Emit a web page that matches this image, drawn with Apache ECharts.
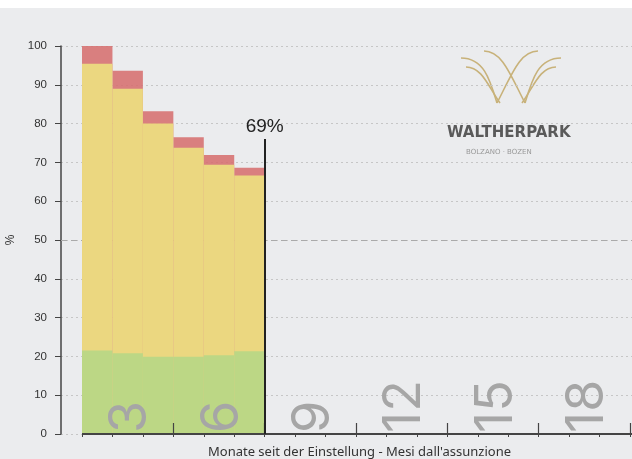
<!DOCTYPE html>
<html>
<head>
<meta charset="utf-8">
<script src="https://cdn.jsdelivr.net/npm/echarts@6/dist/echarts.min.js"></script>
<style>
html, body { margin: 0; padding: 0; background: #fff; }
#main { position: absolute; left: 0; top: 8px; width: 632px; height: 451px; }
</style>
</head>
<body>
<div id="main"></div>
<script>
// monthly shares (%), green / yellow / red from bottom to top
let months = [1, 2, 3, 4, 5, 6];
let greenData = [21.5, 20.8, 19.9, 19.9, 20.3, 21.3];
let yellowData = [73.9, 68.2, 60.1, 53.9, 49.1, 45.3];
let redData = [4.6, 4.6, 3.2, 2.7, 2.5, 2.0];

let xTickValues = [3, 6, 9, 12, 15, 18];
let xTickLabels = ['3', '6', '9', '12', '15', '18'];
let monthTicks = [0, 1, 2, 3, 4, 5, 6, 7, 8, 9, 10, 11, 12, 13, 14, 15, 16, 17, 18];

let markerMonth = 6;
let markerTop = 76;
let markerLabel = '69%';
let refLine = 50;

let xMin = -0.69;
let xMax = 18.066;
let labelPos = xTickValues.map(v => v - 1.4);

// value/value axes can't stack, so layer cumulative tops instead
let greenTop = greenData.slice();
let yellowTop = greenData.map((g, i) => g + yellowData[i]);
let redTop = yellowTop.map((y, i) => y + redData[i]);

function toPairs(arr) {
  return months.map((m, i) => [m - 0.5, arr[i]]);
}

let chart = echarts.init(document.getElementById('main'));

// logo emblem (decoration), chart coords
let gold = '#c8b27a';
let mid = 511;
let curves = [
  [484, 43, 502, 43, 510, 66, 525, 95],
  [461, 50, 484, 50, 490, 72, 497, 95],
  [466, 59, 482, 59, 488, 78, 500, 95]
];
let emblem = [];
curves.forEach(c => {
  emblem.push({
    type: 'bezierCurve',
    shape: { x1: c[0], y1: c[1], cpx1: c[2], cpy1: c[3], cpx2: c[4], cpy2: c[5], x2: c[6], y2: c[7] },
    style: { stroke: gold, lineWidth: 1.6, fill: null }
  });
  emblem.push({
    type: 'bezierCurve',
    shape: { x1: 2 * mid - c[0], y1: c[1], cpx1: 2 * mid - c[2], cpy1: c[3], cpx2: 2 * mid - c[4], cpy2: c[5], x2: 2 * mid - c[6], y2: c[7] },
    style: { stroke: gold, lineWidth: 1.6, fill: null }
  });
});

let option = {
  backgroundColor: '#ebecee',
  animation: false,
  grid: { left: 61, right: 0, top: 38, bottom: 25, outerBoundsMode: 'none', containLabel: false },
  xAxis: [
    {
      type: 'value',
      min: xMin,
      max: xMax,
      z: 4,
      name: "Monate seit der Einstellung - Mesi dall'assunzione",
      nameLocation: 'middle',
      nameGap: 12,
      nameTextStyle: { fontFamily: 'Noto Sans', fontSize: 13, color: '#333', padding: [0, 0, 0, 26] },
      axisLine: { show: false },
      splitLine: { show: false },
      axisTick: {
        show: true,
        inside: true,
        length: 11,
        customValues: xTickValues,
        lineStyle: { color: '#444', width: 1.2 }
      },
      axisLabel: {
        show: true,
        inside: true,
        rotate: 90,
        margin: 1,
        customValues: labelPos,
        fontFamily: 'Inter',
        fontSize: 52,
        color: '#a6a6a6',
        formatter: function (v) {
          let i = labelPos.indexOf(v);
          return i >= 0 ? xTickLabels[i] : '';
        }
      }
    },
    {
      type: 'value',
      min: xMin,
      max: xMax,
      position: 'bottom',
      z: 4,
      axisLine: { show: false },
      splitLine: { show: false },
      axisLabel: { show: false },
      axisTick: {
        show: true,
        length: 3,
        customValues: monthTicks,
        lineStyle: { color: '#444', width: 1 }
      }
    }
  ],
  yAxis: {
    type: 'value',
    min: 0,
    max: 100,
    interval: 10,
    name: '%',
    nameLocation: 'middle',
    nameGap: 40,
    nameTextStyle: { fontFamily: 'Liberation Sans', fontSize: 12, color: '#333' },
    axisLine: { show: true, onZero: false, lineStyle: { color: '#444', width: 1.5 } },
    axisTick: { show: true, length: 6, lineStyle: { color: '#444' } },
    axisLabel: { fontFamily: 'Liberation Sans', fontSize: 11.5, color: '#333', margin: 14 },
    splitLine: { show: true, lineStyle: { color: '#c6c6c6', type: [2, 3], width: 1 } }
  },
  graphic: emblem.concat([
    {
      type: 'text',
      left: 447,
      top: 118,
      style: { text: 'WALTHERPARK', font: 'bold 15px "DejaVu Sans"', fill: '#5a5a5a' }
    },
    {
      type: 'text',
      left: 466,
      top: 141,
      style: { text: 'BOLZANO · BOZEN', font: '7px "DejaVu Sans"', fill: '#999' }
    }
  ]),
  series: [
    {
      type: 'bar',
      barWidth: '100%',
      barGap: '-100%',
      itemStyle: { color: 'rgba(214,112,112,0.88)' },
      data: toPairs(redTop),
      markLine: {
        z: 1,
        silent: true,
        symbol: 'none',
        label: { show: false },
        lineStyle: { color: '#aaaaaa', type: [6, 4], width: 1 },
        data: [{ yAxis: refLine }]
      }
    },
    {
      type: 'bar',
      barWidth: '100%',
      barGap: '-100%',
      itemStyle: { color: '#ebd780' },
      data: toPairs(yellowTop)
    },
    {
      type: 'bar',
      barWidth: '100%',
      barGap: '-100%',
      itemStyle: { color: '#bcd785' },
      data: toPairs(greenTop),
      markLine: {
        z: 6,
        silent: true,
        symbol: 'none',
        data: [
          [
            { coord: [0, 0], lineStyle: { color: '#444', width: 2, type: 'solid' }, label: { show: false } },
            { coord: [xMax, 0] }
          ],
          [
            {
              coord: [markerMonth, 0],
              lineStyle: { color: '#222', width: 2, type: 'solid' },
              label: { show: true, position: 'end', formatter: markerLabel, fontFamily: 'Liberation Sans', fontSize: 19, color: '#222', distance: 3 }
            },
            { coord: [markerMonth, markerTop] }
          ]
        ]
      }
    }
  ]
};

chart.setOption(option);
</script>
</body>
</html>
